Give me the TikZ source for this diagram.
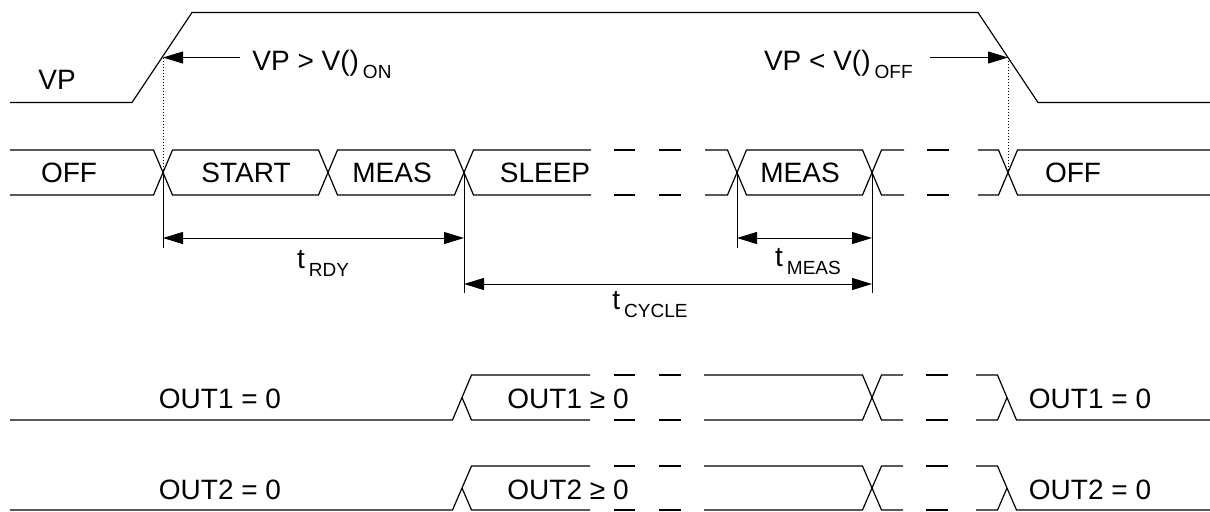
\documentclass[tikz,border=0pt]{standalone}
\usepackage{fontspec}
\setmainfont{Liberation Sans}
\usetikzlibrary{arrows.meta}
\newcommand\lowtxt[1]{\hspace{2pt}\raisebox{-4pt}{\fontsize{9.5}{10}\selectfont #1}}
\tikzstyle{wave} = [line width=0.6pt, black]
\tikzstyle{label} = [font=\fontsize{14}{16}\selectfont, inner sep=0pt, anchor=base]
\tikzstyle{guide} = [line width=0.5pt]
\tikzstyle{marker} = [line width=0.5pt, densely dotted]
\tikzstyle{arrow} = [line width=0.5pt, -{Triangle[length=10pt,width=6pt]}]
\tikzstyle{dimarrow} = [line width=0.5pt, {Triangle[length=10pt,width=6pt]}-{Triangle[length=10pt,width=6pt]}]

\begin{document}
\begin{tikzpicture}[x=0.5pt, y=-0.5pt]
    \useasboundingbox (0,0) rectangle (1210,511);

    \draw [wave] (10,102.5) -- (132,102.5) -- (192,12.5) -- (978,12.5) -- (1038,102.5) -- (1210,102.5);
    \node (vp-label) [label] at (57,89) {VP};

    \coordinate (vp-on)  at (163,57.5);
    \coordinate (vp-off) at (1008,57.5);
    \node (on-label)  [label, anchor=base west, inner xsep=6pt]   at (240,70) {VP > V()\lowtxt{ON}};
    \node (off-label) [label, anchor=base east, inner xsep=8.5pt] at (930,70) {VP < V()\lowtxt{OFF}};
    \draw [arrow] (on-label.west |- vp-on)   -- (vp-on);
    \draw [arrow] (off-label.east |- vp-off) -- (vp-off);

    \coordinate (x-on)     at (163,172.5);
    \coordinate (x-sleep)  at (464,172.5);
    \coordinate (x-meas)   at (737,172.5);
    \coordinate (x-meased) at (872,172.5);
    \coordinate (x-off)    at (1008,172.5);
    \draw [marker] (vp-on)  -- (x-on);
    \draw [marker] (vp-off) -- (x-off);

    \draw [wave] (10,150) -- (153.5,150) -- (172.5,195) -- (318.5,195) -- (337.5,150) -- (454.5,150) -- (473.5,195) -- (591,195);
    \draw [wave] (10,195) -- (153.5,195) -- (172.5,150) -- (318.5,150) -- (337.5,195) -- (454.5,195) -- (473.5,150) -- (591,150);
    \foreach \a/\b in {614/635, 659/681, 927/949}
        \draw [wave] (\a,150) -- (\b,150) (\a,195) -- (\b,195);
    \draw [wave] (705,150) -- (727.5,150) -- (746.5,195) -- (862.5,195) -- (881.5,150) -- (904,150);
    \draw [wave] (705,195) -- (727.5,195) -- (746.5,150) -- (862.5,150) -- (881.5,195) -- (904,195);
    \draw [wave] (978,150) -- (998.5,150) -- (1017.5,195) -- (1210,195);
    \draw [wave] (978,195) -- (998.5,195) -- (1017.5,150) -- (1210,150);

    \node (off)   [label] at (69,182.5)   {OFF};
    \node (start) [label] at (246,182.5)  {START};
    \node (meas)  [label] at (392,182.5)  {MEAS};
    \node (sleep) [label] at (545,182.5)  {SLEEP};
    \node (meas2) [label] at (800,182.5)  {MEAS};
    \node (off2)  [label] at (1073,182.5) {OFF};

    \draw [guide] (x-on)     -- (163,248);
    \draw [guide] (x-sleep)  -- (464,293);
    \draw [guide] (x-meas)   -- (737,248);
    \draw [guide] (x-meased) -- (872,293);

    \coordinate (rdy-a)   at (163,238);
    \coordinate (rdy-b)   at (464,238);
    \coordinate (meas-a)  at (737,238);
    \coordinate (meas-b)  at (872,238);
    \coordinate (cycle-a) at (464,284);
    \coordinate (cycle-b) at (872,284);
    \draw [dimarrow] (rdy-a)   -- (rdy-b);
    \draw [dimarrow] (meas-a)  -- (meas-b);
    \draw [dimarrow] (cycle-a) -- (cycle-b);
    \node (t-rdy)   [label] at (323,268) {t\lowtxt{RDY}};
    \node (t-meas)  [label] at (808,266) {t\lowtxt{MEAS}};
    \node (t-cycle) [label] at (650,309) {t\lowtxt{CYCLE}};

    \draw [wave] (10,420) -- (452.5,420) -- (471.5,375) -- (590,375);
    \draw [wave] (462,397.5) -- (471.5,420) -- (590,420);
    \foreach \a/\b in {614/635, 659/681, 926/948}
        \draw [wave] (\a,375) -- (\b,375) (\a,420) -- (\b,420);
    \draw [wave] (704,375) -- (862.5,375) -- (881.5,420) -- (903,420);
    \draw [wave] (704,420) -- (862.5,420) -- (881.5,375) -- (903,375);
    \draw [wave] (976,375) -- (997.5,375) -- (1016.5,420) -- (1210,420);
    \draw [wave] (976,420) -- (997.5,420) -- (1007,397.5);
    \node (out1-low)  [label] at (220,408)  {OUT1 = 0};
    \node (out1-high) [label] at (568,408)  {OUT1 ≥ 0};
    \node (out1-end)  [label] at (1090,408) {OUT1 = 0};

    \draw [wave] (10,510) -- (452.5,510) -- (471.5,466) -- (590,466);
    \draw [wave] (462,488) -- (471.5,510) -- (590,510);
    \foreach \a/\b in {614/635, 659/681, 926/948}
        \draw [wave] (\a,466) -- (\b,466) (\a,510) -- (\b,510);
    \draw [wave] (704,466) -- (862.5,466) -- (881.5,510) -- (903,510);
    \draw [wave] (704,510) -- (862.5,510) -- (881.5,466) -- (903,466);
    \draw [wave] (976,466) -- (997.5,466) -- (1016.5,510) -- (1210,510);
    \draw [wave] (976,510) -- (997.5,510) -- (1007,488);
    \node (out2-low)  [label] at (220,499)  {OUT2 = 0};
    \node (out2-high) [label] at (568,499)  {OUT2 ≥ 0};
    \node (out2-end)  [label] at (1090,499) {OUT2 = 0};
\end{tikzpicture}
\end{document}
